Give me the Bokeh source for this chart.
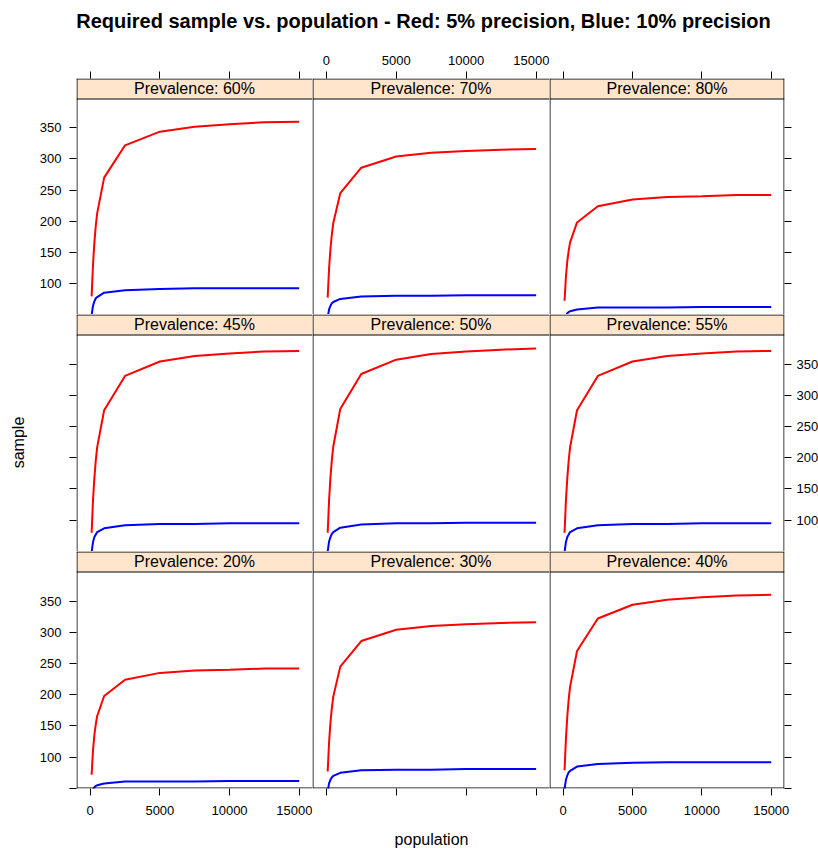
from bokeh.plotting import figure
from bokeh.models import Range1d, FixedTicker, LinearAxis, Label, Span
from bokeh.layouts import column, row, gridplot
from bokeh.embed import file_html
from bokeh.resources import INLINE
from bokeh.core.properties import value

# ---------------- data ----------------
population = [100, 200, 300, 400, 500, 1000, 2500, 5000, 7500, 10000, 12500, 15000]

red_20 = [72, 111, 136, 153, 166, 198, 224, 235, 239, 240, 242, 242]
blue_20 = [39, 48, 52, 54, 55, 58, 61, 61, 61, 62, 62, 62]
red_30 = [77, 124, 156, 179, 197, 245, 286, 304, 310, 313, 315, 316]
blue_30 = [45, 58, 64, 68, 70, 75, 79, 80, 80, 81, 81, 81]
red_40 = [79, 130, 166, 193, 213, 270, 322, 344, 352, 356, 359, 360]
blue_40 = [49, 64, 71, 76, 78, 85, 89, 91, 92, 92, 92, 92]
red_45 = [80, 132, 168, 196, 217, 276, 331, 354, 363, 367, 370, 371]
blue_45 = [49, 65, 73, 77, 81, 87, 92, 94, 94, 95, 95, 95]
red_50 = [80, 132, 169, 197, 218, 278, 334, 357, 366, 370, 373, 375]
blue_50 = [50, 66, 73, 78, 81, 88, 93, 95, 95, 96, 96, 96]
red_55 = [80, 132, 168, 196, 217, 276, 331, 354, 363, 367, 370, 371]
blue_55 = [49, 65, 73, 77, 81, 87, 92, 94, 94, 95, 95, 95]
red_60 = [79, 130, 166, 193, 213, 270, 322, 344, 352, 356, 359, 360]
blue_60 = [49, 64, 71, 76, 78, 85, 89, 91, 92, 92, 92, 92]
red_70 = [77, 124, 156, 179, 197, 245, 286, 304, 310, 313, 315, 316]
blue_70 = [45, 58, 64, 68, 70, 75, 79, 80, 80, 81, 81, 81]
red_80 = [72, 111, 136, 153, 166, 198, 224, 235, 239, 240, 242, 242]
blue_80 = [39, 48, 52, 54, 55, 58, 61, 61, 61, 62, 62, 62]

panel_rows = [[60, 70, 80], [45, 50, 55], [20, 30, 40]]
x_ticks = [0, 5000, 10000, 15000]
y_ticks = [50, 100, 150, 200, 250, 300, 350]
y_hidden_labels = [50]

title_text = "Required sample vs. population - Red: 5% precision, Blue: 10% precision"
x_label = "population"
y_label = "sample"
strip_fmt = "Prevalence: {}%"

series = {
    20: (red_20, blue_20), 30: (red_30, blue_30), 40: (red_40, blue_40),
    45: (red_45, blue_45), 50: (red_50, blue_50), 55: (red_55, blue_55),
    60: (red_60, blue_60), 70: (red_70, blue_70), 80: (red_80, blue_80),
}

# ---------------- layout / style ----------------
FONT = "Liberation Sans"
X_LO, X_HI = -985, 15955
Y_LO, Y_PLOT_TOP = 49.9, 397.3
STRIP_PX = 20
COL_W = [236, 237, 235]
ROW_H = [236, 237, 237]
YLAB_W = 30
LEFT_B, RIGHT_B, TOP_B, BOT_B = 46, 34, 32, 38
TITLE_H = 46
XLAB_H = 22
TOTAL_W = YLAB_W + LEFT_B + sum(COL_W) + RIGHT_B          # 818
GRID_H = TOP_B + sum(ROW_H) + BOT_B
STRIP_FILL = "#FFE5CC"
RED = "#FF0000"
BLUE = "#0000FF"
EDGE = "#000000"


def add_axis(p, side, ticks, show_labels, standoff, hidden=()):
    ax = LinearAxis(
        ticker=FixedTicker(ticks=ticks, minor_ticks=[]),
        major_tick_in=0, major_tick_out=7,
        minor_tick_in=0, minor_tick_out=0,
        major_tick_line_color="black", major_tick_line_width=1,
        axis_line_color=None,
        major_label_standoff=standoff,
        major_label_text_font=FONT,
        major_label_text_font_size="13px",
        major_label_text_color="black",
    )
    if not show_labels:
        ax.major_label_overrides = {t: "" for t in ticks}
    elif hidden:
        ax.major_label_overrides = {t: "" for t in hidden}
    p.add_layout(ax, side)
    return ax


def edge(p, loc, dim):
    p.add_layout(Span(location=loc, dimension=dim, line_color=EDGE,
                      line_width=1))


grid = []
for r in range(3):
    cells = []
    for c in range(3):
        prev = panel_rows[r][c]
        fh = ROW_H[r]
        fw = COL_W[c]
        strip_units = (Y_PLOT_TOP - Y_LO) * STRIP_PX / (fh - STRIP_PX)
        y_hi = Y_PLOT_TOP + strip_units
        ux = (X_HI - X_LO) / fw          # data units per pixel
        uy = (y_hi - Y_LO) / fh
        p = figure(
            frame_width=fw, frame_height=fh,
            x_range=Range1d(X_LO, X_HI), y_range=Range1d(Y_LO, y_hi),
            x_axis_location=None, y_axis_location=None,
            output_backend="svg", toolbar_location=None,
            min_border_left=LEFT_B if c == 0 else 0,
            min_border_right=RIGHT_B if c == 2 else 0,
            min_border_top=TOP_B if r == 0 else 0,
            min_border_bottom=BOT_B if r == 2 else 0,
            background_fill_color="white", border_fill_color="white",
            outline_line_color=None,
        )
        p.grid.visible = False

        # strip
        p.quad(left=[X_LO], right=[X_HI], bottom=[Y_PLOT_TOP], top=[y_hi],
               fill_color=STRIP_FILL, line_color=None)
        p.text(x=[(X_LO + X_HI) / 2], y=[(Y_PLOT_TOP + y_hi) / 2],
               text=[strip_fmt.format(prev)], text_align="center",
               text_baseline="middle", text_font=value(FONT),
               text_font_size="16px", text_color="black")

        red, blue = series[prev]
        p.line(population, red, line_color=RED, line_width=2)
        p.line(population, blue, line_color=BLUE, line_width=2)

        # panel borders, centred on pixel rows/columns (each shared edge once)
        edge(p, X_LO + 0.5 * ux, "height")
        edge(p, y_hi - 0.5 * uy, "width")
        edge(p, Y_PLOT_TOP - 0.5 * uy, "width")
        if c == 2:
            edge(p, X_HI - 0.5 * ux, "height")
        if r == 2:
            edge(p, Y_LO + 0.5 * uy, "width")

        if r == 0:
            add_axis(p, "above", x_ticks, c == 1, 7)
        if r == 2:
            add_axis(p, "below", x_ticks, c in (0, 2), 10)
        if c == 0:
            add_axis(p, "left", y_ticks, r in (0, 2), 8, y_hidden_labels)
        if c == 2:
            add_axis(p, "right", y_ticks, r == 1, 5, y_hidden_labels)
        cells.append(p)
    grid.append(cells)


def text_fig(w, h):
    f = figure(width=w, height=h, x_range=Range1d(0, w), y_range=Range1d(0, h),
               x_axis_location=None, y_axis_location=None, min_border=0,
               outline_line_color=None, output_backend="svg",
               toolbar_location=None, background_fill_color="white",
               border_fill_color="white")
    f.grid.visible = False
    return f


title_fig = text_fig(TOTAL_W, TITLE_H)
title_fig.add_layout(Label(x=423, y=TITLE_H - 20, text=title_text,
                           text_align="center", text_baseline="middle",
                           text_font=FONT, text_font_size="20px",
                           text_font_style="bold", text_color="black"))

ylab_fig = text_fig(YLAB_W, GRID_H)
ylab_fig.add_layout(Label(x=18, y=GRID_H - (442 - TITLE_H), text=y_label,
                          angle=90, angle_units="deg",
                          text_align="center", text_baseline="middle",
                          text_font=FONT, text_font_size="16px",
                          text_color="black"))

xlab_fig = text_fig(TOTAL_W, XLAB_H)
xlab_fig.add_layout(Label(x=431, y=XLAB_H - (839 - TITLE_H - GRID_H), text=x_label,
                          text_align="center", text_baseline="middle",
                          text_font=FONT, text_font_size="16px",
                          text_color="black"))

gp = gridplot(grid, toolbar_location=None)
layout = column(title_fig, row(ylab_fig, gp), xlab_fig)

open("out.html", "w").write(file_html(layout, INLINE))
